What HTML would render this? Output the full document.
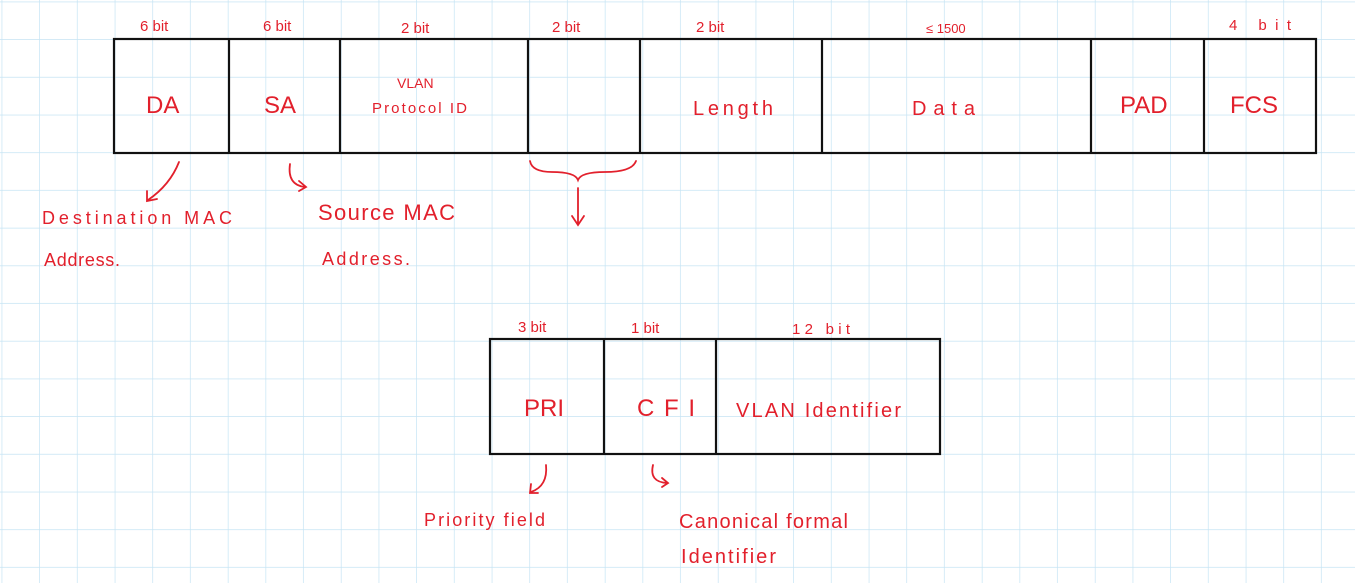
<!DOCTYPE html>
<html><head><meta charset="utf-8"><style>
html,body{margin:0;padding:0;background:#fff;}
svg{display:block;}
text{font-family:"Liberation Sans",sans-serif;fill:#e2202c;}
</style></head><body>
<svg width="1355" height="583" viewBox="0 0 1355 583" xmlns="http://www.w3.org/2000/svg">
<defs>
<pattern id="g" x="2.3" y="2.3" width="37.7" height="37.7" patternUnits="userSpaceOnUse">
<path d="M37.7 0V37.7M0 37.7H37.7" stroke="#c6e4f4" stroke-width="1.4" fill="none"/>
</pattern>
</defs>
<rect width="1355" height="583" fill="url(#g)"/>
<g stroke="#111" stroke-width="2.2" fill="none">
<rect x="114" y="39" width="1202" height="114"/>
<path d="M229 39V153M340 39V153M528 39V153M640 39V153M822 39V153M1091 39V153M1204 39V153"/>
<rect x="490" y="339" width="450" height="115"/>
<path d="M604 339V454M716 339V454"/>
</g>
<g font-size="15">
<text x="140" y="31">6 bit</text>
<text x="263" y="31">6 bit</text>
<text x="401" y="33">2 bit</text>
<text x="552" y="32">2 bit</text>
<text x="696" y="32">2 bit</text>
<text x="926" y="33" font-size="13">≤ 1500</text>
<text x="1229" y="30" textLength="62">4  bit</text>
<text x="518" y="332">3 bit</text>
<text x="631" y="333">1 bit</text>
<text x="792" y="334" textLength="58">12 bit</text>
</g>
<g font-size="24">
<text x="146" y="113">DA</text>
<text x="264" y="113">SA</text>
<text x="1120" y="113">PAD</text>
<text x="1230" y="113">FCS</text>
<text x="524" y="416">PRI</text>
<text x="637" y="416" textLength="58">CFI</text>
</g>
<g font-size="20">
<text x="693" y="115" textLength="80">Length</text>
<text x="912" y="115" textLength="63">Data</text>
<text x="736" y="417" textLength="165">VLAN Identifier</text>
</g>
<text x="397" y="88" font-size="14">VLAN</text>
<text x="372" y="113" font-size="15" textLength="95">Protocol ID</text>
<g font-size="18">
<text x="42" y="224" textLength="190">Destination MAC</text>
<text x="44" y="266" textLength="76">Address.</text>
<text x="318" y="220" font-size="22" textLength="137">Source MAC</text>
<text x="322" y="265" textLength="88">Address.</text>
<text x="424" y="526" textLength="121">Priority field</text>
<text x="679" y="528" font-size="20" textLength="169">Canonical  formal</text>
<text x="681" y="563" font-size="20" textLength="95">Identifier</text>
</g>
<g stroke="#e2202c" stroke-width="1.8" fill="none" stroke-linecap="round">
<path d="M179 162Q170 185 148 200M147 191L147 201L157 199"/>
<path d="M290 164Q287 185 305 187M299 181L306 187L299 191"/>
<path d="M530 161Q532 172 552 172Q575 172 578 180Q581 172 605 172Q632 172 636 161"/>
<path d="M578 188V224M572 216L578 225L584 216"/>
<path d="M546 465Q548 486 531 492M531 484L530 493L538 493"/>
<path d="M653 465Q649 482 667 483M662 478L668 483L662 487"/>
</g>
</svg>
</body></html>
